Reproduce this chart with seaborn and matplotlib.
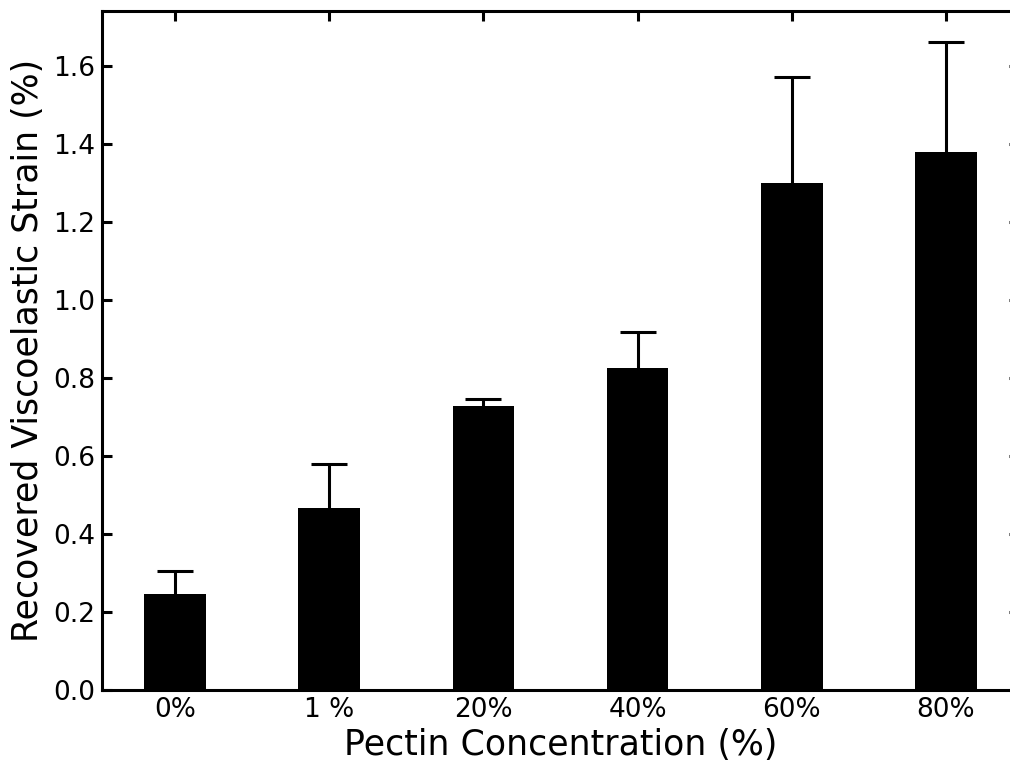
import matplotlib
matplotlib.use("Agg")
import matplotlib.pyplot as plt
import seaborn as sns
import numpy as np
import pandas as pd

# data
categories = ["0%", "1 %", "20%", "40%", "60%", "80%"]
strain = [0.247, 0.467, 0.728, 0.826, 1.298, 1.378]
strain_err = [0.057, 0.112, 0.018, 0.092, 0.274, 0.282]

sns.set_theme(style="ticks")
plt.rcParams['font.family'] = ['DejaVu Sans']

df = pd.DataFrame({"conc": categories, "strain": strain})

fig = plt.figure(figsize=(10.1, 7.62), dpi=100)
ax = fig.add_axes([102 / 1010, (762 - 690) / 762, (1019 - 102) / 1010, (690 - 11) / 762])

sns.barplot(data=df, x="conc", y="strain", color="black", width=0.4,
            errorbar=None, ax=ax, saturation=1)
for p in ax.patches:
    p.set_edgecolor("none")
    p.set_zorder(3)

# upper-only error bars, tucked behind the bars
x = np.arange(len(categories))
eb = ax.errorbar(x, strain, yerr=[np.zeros(len(strain)), strain_err], fmt="none",
                 ecolor="black", elinewidth=2.2, capsize=13, capthick=2.2, zorder=2)
eb[1][0].set_visible(False)

ax.set_xlim(-0.473, len(categories) - 1 + 0.473)
ax.set_ylim(0, 1.74)
ax.set_yticks(np.arange(0, 1.61, 0.2))
ax.set_yticklabels([f"{v:.1f}" for v in np.arange(0, 1.61, 0.2)])

ax.set_xlabel("Pectin Concentration (%)", fontsize=25, color="black", labelpad=4)
ax.set_ylabel("Recovered Viscoelastic Strain (%)", fontsize=25, color="black", labelpad=6)

ax.tick_params(axis="both", which="major", direction="in", length=7, width=2.2,
               labelsize=19, colors="black", top=True, right=True, pad=5)
for s in ax.spines.values():
    s.set_linewidth(2.2)
    s.set_color("black")
    s.set_visible(True)

fig.savefig("out.png", dpi=100)
